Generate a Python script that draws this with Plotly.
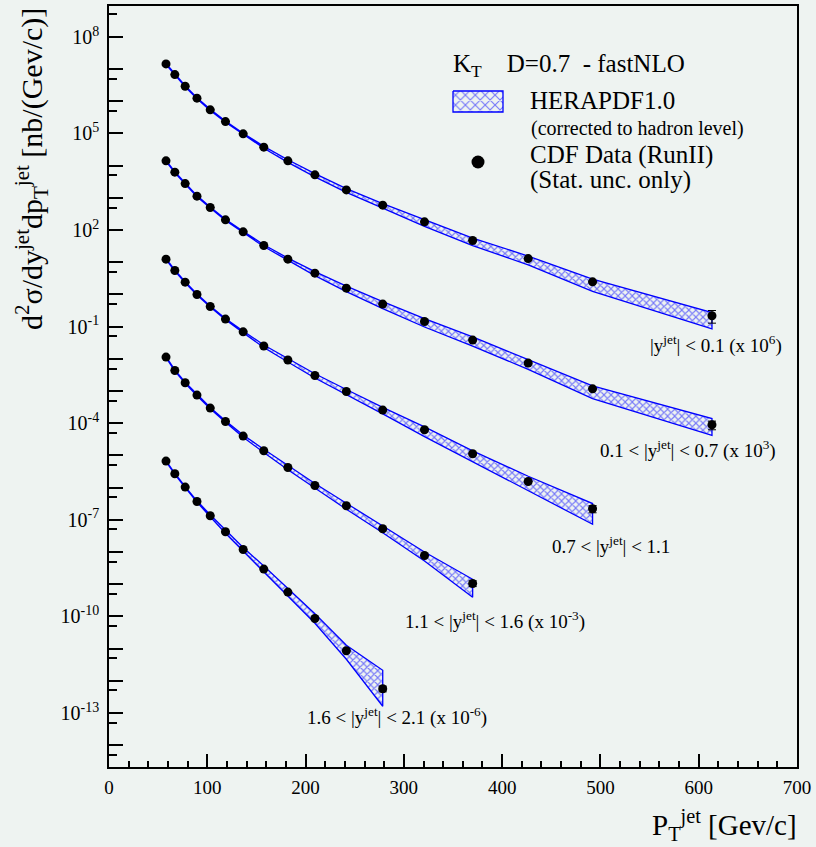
import plotly.graph_objects as go

# ---------------- data ----------------
pt_center = [58, 67, 77.5, 89.5, 103, 118.5, 136.5, 157.5, 182, 209.5,
             241.5, 278.5, 321, 370, 426.5, 492, 613.5]

series_labels = [
    "|y<sup>jet</sup>| < 0.1 (x 10<sup>6</sup>)",
    "0.1 < |y<sup>jet</sup>| < 0.7 (x 10<sup>3</sup>)",
    "0.7 < |y<sup>jet</sup>| < 1.1",
    "1.1 < |y<sup>jet</sup>| < 1.6 (x 10<sup>-3</sup>)",
    "1.6 < |y<sup>jet</sup>| < 2.1 (x 10<sup>-6</sup>)",
]
scale_factor = [1e6, 1e3, 1.0, 1e-3, 1e-6]

# CDF data, d2sigma/dy dpT [nb/(GeV/c)], unscaled
xs_y00_01 = [14.5, 6.75, 2.94, 1.25, 0.541, 0.234, 0.0972, 0.0375, 0.0141, 5.18e-3,
             1.77e-3, 5.93e-4, 1.80e-4, 4.72e-5, 1.30e-5, 2.46e-6, 2.17e-7]
xs_y01_07 = [14.1, 6.28, 2.78, 1.13, 0.500, 0.2074, 0.0879, 0.0330, 0.01248, 4.59e-3,
             1.57e-3, 5.00e-4, 1.44e-4, 3.81e-5, 7.35e-6, 1.17e-6, 8.92e-8]
xs_y07_11 = [12.49, 5.52, 2.41, 0.993, 0.421, 0.171, 0.0690, 0.02497, 9.18e-3, 3.03e-3,
             9.65e-4, 2.55e-4, 6.24e-5, 1.12e-5, 1.55e-6, 2.20e-7]
xs_y11_16 = [11.29, 4.33, 1.80, 0.746, 0.294, 0.1129, 0.0398, 0.0139, 4.21e-3, 1.162e-3,
             2.72e-4, 5.25e-5, 7.78e-6, 1.05e-6]
xs_y16_21 = [6.65, 2.68, 1.036, 0.370, 0.1331, 0.0424, 0.01196, 2.94e-3, 5.68e-4, 8.60e-5,
             8.54e-6, 5.64e-7]

# HERAPDF1.0 band edges relative to the data points (theory / data)
band_hi_y00_01 = [1.04, 1.04, 1.04, 1.04, 1.04, 1.04, 1.05, 1.06, 1.08, 1.09,
                  1.097, 1.113, 1.196, 1.196, 1.196, 1.222, 1.266]
band_lo_y00_01 = [0.96, 0.96, 0.96, 0.96, 0.96, 0.96, 0.95, 0.93, 0.90, 0.867,
                  0.836, 0.807, 0.725, 0.699, 0.637, 0.507, 0.395]
band_hi_y01_07 = [1.04, 1.04, 1.04, 1.04, 1.04, 1.04, 1.05, 1.06, 1.08, 1.113,
                  1.154, 1.196, 1.239, 1.257, 1.284, 1.239, 1.558]
band_lo_y01_07 = [0.96, 0.96, 0.96, 0.96, 0.96, 0.96, 0.95, 0.93, 0.90, 0.836,
                  0.779, 0.725, 0.675, 0.651, 0.642, 0.496, 0.472]
band_hi_y07_11 = [1.04, 1.04, 1.04, 1.04, 1.04, 1.04, 1.06, 1.08, 1.113, 1.137,
                  1.154, 1.213, 1.239, 1.239, 1.450, 1.450]
band_lo_y07_11 = [0.96, 0.96, 0.96, 0.96, 0.96, 0.96, 0.94, 0.90, 0.867, 0.836,
                  0.807, 0.762, 0.615, 0.572, 0.507, 0.330]
band_hi_y11_16 = [1.04, 1.04, 1.04, 1.04, 1.04, 1.05, 1.08, 1.113, 1.137, 1.154,
                  1.196, 1.213, 1.284, 1.350]
band_lo_y11_16 = [0.96, 0.96, 0.96, 0.96, 0.96, 0.95, 0.92, 0.879, 0.848, 0.818,
                  0.779, 0.751, 0.675, 0.373]
band_hi_y16_21 = [1.04, 1.04, 1.04, 1.05, 1.074, 1.113, 1.154, 1.239, 1.331, 1.410,
                  1.482, 3.754]
band_lo_y16_21 = [0.96, 0.96, 0.96, 0.95, 0.931, 0.898, 0.855, 0.779, 0.751, 0.709,
                  0.544, 0.286]

# relative statistical uncertainty of the highest-pT point of each series
stat_up_last = [0.46, 0.30, 0.25, 0.20, 0.20]
stat_dn_last = [0.41, 0.30, 0.25, 0.20, 0.20]

data = [xs_y00_01, xs_y01_07, xs_y07_11, xs_y11_16, xs_y16_21]
band_hi = [band_hi_y00_01, band_hi_y01_07, band_hi_y07_11, band_hi_y11_16, band_hi_y16_21]
band_lo = [band_lo_y00_01, band_lo_y01_07, band_lo_y07_11, band_lo_y11_16, band_lo_y16_21]

y_decades = list(range(-14, 9))
y_labeled = [8, 5, 2, -1, -4, -7, -10, -13]
x_ticks = [0, 100, 200, 300, 400, 500, 600, 700]

# ---------------- styling ----------------
BG = "#eef3f1"
FONT = "Liberation Serif, Times New Roman, serif"
BLUE = "#0000ff"
L, R, T, B = 109, 797, 6, 767      # plot area in pixels
W, H = 816, 847

fig = go.Figure()

hatch = dict(shape="x", fgcolor=BLUE, bgcolor="rgba(0,0,0,0)", size=5,
             solidity=0.4, fillmode="overlay")
hatch_legend = dict(shape="x", fgcolor=BLUE, bgcolor="rgba(0,0,0,0)", size=7,
                    solidity=0.3, fillmode="overlay")

for i in range(5):
    n = len(data[i])
    x = pt_center[:n]
    y = [v * scale_factor[i] for v in data[i]]
    hi = [v * r for v, r in zip(y, band_hi[i])]
    lo = [v * r for v, r in zip(y, band_lo[i])]
    fig.add_trace(go.Scatter(
        x=x + x[::-1], y=hi + lo[::-1], mode="lines", fill="toself",
        fillcolor="rgba(0,0,0,0)", fillpattern=hatch,
        line=dict(color=BLUE, width=1.3), hoverinfo="skip", showlegend=False))

for i in range(5):
    n = len(data[i])
    x = pt_center[:n]
    y = [v * scale_factor[i] for v in data[i]]
    eu = [0.0] * (n - 1) + [y[-1] * stat_up_last[i]]
    ed = [0.0] * (n - 1) + [y[-1] * stat_dn_last[i]]
    fig.add_trace(go.Scatter(
        x=x, y=y, mode="markers",
        marker=dict(color="black", size=9),
        error_y=dict(type="data", array=eu, arrayminus=ed, color="black",
                     thickness=1, width=4),
        name=series_labels[i], showlegend=False))

# helper trace so the extra decade-tick axis is drawn
fig.add_trace(go.Scatter(x=[None], y=[None], yaxis="y3", showlegend=False,
                         hoverinfo="skip"))

# legend swatches on a pixel-coordinate overlay axis pair
fig.add_trace(go.Scatter(
    x=[453, 503, 503, 453, 453], y=[91, 91, 112, 112, 91], mode="lines",
    fill="toself", fillcolor="rgba(0,0,0,0)", fillpattern=hatch_legend,
    line=dict(color=BLUE, width=1.3), xaxis="x2", yaxis="y2",
    hoverinfo="skip", showlegend=False))
fig.add_trace(go.Scatter(
    x=[478], y=[162], mode="markers", marker=dict(color="black", size=13),
    xaxis="x2", yaxis="y2", hoverinfo="skip", showlegend=False))


def ann(text, x, y, size, xanchor="left", yanchor="middle", angle=0):
    return dict(text=text, x=(x - L) / (R - L), y=(B - y) / (B - T),
                xref="paper", yref="paper", showarrow=False,
                xanchor=xanchor, yanchor=yanchor, textangle=angle,
                font=dict(family=FONT, size=size, color="black"))


NB = "\u00a0"
annotations = [
    ann(series_labels[0], 648, 344, 19),
    ann(series_labels[1], 598, 449, 19),
    ann(series_labels[2], 550, 545, 19),
    ann(series_labels[3], 403, 620, 19),
    ann(series_labels[4], 305, 716, 19),
    ann("K<sub>T</sub>" + NB * 4 + "D=0.7" + NB * 2 + "- fastNLO", 451, 65, 25),
    ann("HERAPDF1.0", 528, 101, 25),
    ann("(corrected to hadron level)", 529, 128, 20),
    ann("CDF Data (RunII)", 528, 155, 25),
    ann("(Stat. unc. only)", 528, 180, 25),
    ann("P<sub>T</sub><sup>jet</sup> [Gev/c]", 799, 825, 29, xanchor="right"),
    ann("d<sup>2</sup>σ/dy<sup>jet</sup>dp<sub>T</sub><sup>jet</sup> [nb/(Gev/c)]",
        31, 6, 30, xanchor="center", yanchor="top", angle=-90),
]

tickstyle = dict(ticks="inside", tickwidth=1.5, tickcolor="black")

fig.update_layout(
    width=W, height=H,
    margin=dict(l=L, r=W - R, t=T, b=H - B, autoexpand=False),
    paper_bgcolor=BG, plot_bgcolor=BG,
    showlegend=False,
    font=dict(family=FONT, color="black"),
    annotations=annotations,
    xaxis=dict(
        range=[0, 700], tickvals=x_ticks, ticktext=[str(v) for v in x_ticks],
        ticklen=13, **tickstyle, automargin=False,
        showline=True, linecolor="black", linewidth=1.5, mirror=True,
        showgrid=False, zeroline=False, ticklabelstandoff=2,
        tickfont=dict(family=FONT, size=19, color="black"),
        minor=dict(dtick=20, tick0=0, ticklen=6, showgrid=False, **tickstyle),
    ),
    yaxis=dict(
        type="log", range=[-14.68, 8.96], automargin=False,
        tickvals=[10.0 ** k for k in y_labeled],
        ticktext=["10<sup>%d</sup>" % k for k in y_labeled],
        ticklen=14, **tickstyle,
        showline=True, linecolor="black", linewidth=1.5, mirror=True,
        showgrid=False, zeroline=False, ticklabelstandoff=4,
        tickfont=dict(family=FONT, size=20, color="black"),
        minor=dict(tickmode="array",
                   tickvals=[5 * 10.0 ** k for k in range(-15, 9) if k not in (7, 4, 1)],
                   ticklen=8, showgrid=False, **tickstyle),
    ),
    yaxis3=dict(
        type="log", range=[-14.68, 8.96], overlaying="y", side="left", anchor="x",
        tickvals=[10.0 ** k for k in y_decades if k not in y_labeled],
        showticklabels=False, ticklen=14, **tickstyle,
        showline=False, showgrid=False, zeroline=False, automargin=False,
    ),
    xaxis2=dict(overlaying="x", range=[L, R], visible=False, anchor="y2"),
    yaxis2=dict(overlaying="y", range=[B, T], visible=False, anchor="x2"),
)

fig.write_html(
    "out.html",
    config={"displayModeBar": False},
    post_script="document.body.style.margin='0';document.body.style.background='%s';" % BG,
)
